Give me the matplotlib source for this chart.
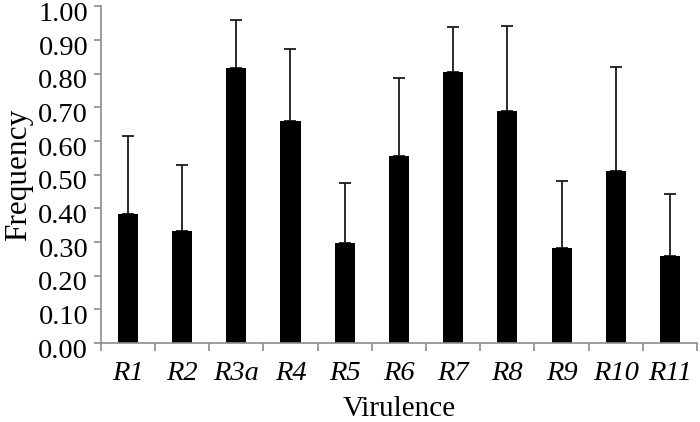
import numpy as np
import matplotlib.pyplot as plt
from matplotlib.transforms import ScaledTranslation

# Virulence frequencies
genes = ["R1", "R2", "R3a", "R4", "R5", "R6", "R7", "R8", "R9", "R10", "R11"]
freq = [0.383, 0.333, 0.818, 0.660, 0.296, 0.555, 0.804, 0.689, 0.282, 0.511, 0.260]
err_top = [0.615, 0.528, 0.958, 0.872, 0.474, 0.788, 0.939, 0.942, 0.480, 0.819, 0.443]

err_up = np.array(err_top) - np.array(freq)
err_low = np.zeros(len(freq))

plt.rcParams['font.family'] = ["Liberation Serif", "DejaVu Serif"]
axis_grey = "#8c8c8c"

fig = plt.figure(figsize=(7.0, 4.22), dpi=100)
ax = fig.add_axes([0.1439, 0.187, 0.852, 0.798])

x = np.arange(len(genes))
ax.bar(x, freq, width=0.37, color="black", zorder=2)
# error bars sit behind the bars so only the upper half shows
ax.errorbar(x, freq, yerr=[err_low, err_up], fmt="none", ecolor="#1a1a1a",
            elinewidth=1.3, capsize=4, capthick=1.3, zorder=1)

ax.set_xlim(-0.5, len(genes) - 0.5)
ax.set_ylim(0, 1.0)
ticks = np.arange(0, 1.01, 0.1)
ax.set_yticks(ticks)
ax.set_yticklabels([f"{v:.2f}" for v in ticks], fontsize=20.5)

ax.set_xticks(x)
ax.set_xticklabels(genes, fontsize=20.5, style="italic")
ax.set_xticks(np.arange(-0.5, len(genes)), minor=True)
ax.tick_params(axis="x", which="major", length=0, pad=13)
ax.tick_params(axis="x", which="minor", length=6, color=axis_grey, width=1.2)
ax.tick_params(axis="y", length=5, color=axis_grey, width=1.2, pad=4)

# Excel-style: y labels sit a little below their tick
shift = ScaledTranslation(0, -5 / 100, fig.dpi_scale_trans)
for lbl in ax.get_yticklabels():
    lbl.set_transform(lbl.get_transform() + shift)

for side in ["top", "right"]:
    ax.spines[side].set_visible(False)
for side in ["left", "bottom"]:
    ax.spines[side].set_color(axis_grey)
    ax.spines[side].set_linewidth(1.2)

ax.set_ylabel("Frequency", fontsize=22.5, labelpad=4)
ax.set_xlabel("Virulence", fontsize=21, labelpad=7)

plt.savefig("out.png", dpi=100)
plt.close()
